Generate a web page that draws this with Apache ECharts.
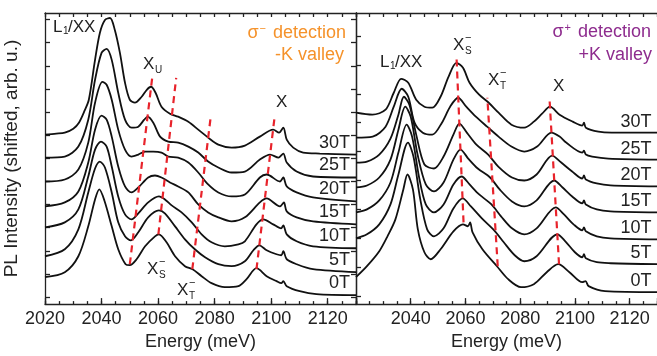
<!DOCTYPE html>
<html><head><meta charset="utf-8">
<script src="https://cdn.jsdelivr.net/npm/echarts@6/dist/echarts.min.js"></script>
<style>html,body{margin:0;padding:0;background:#fff}#c{width:657px;height:356px}</style>
</head><body><div id="c"></div><script>
// ---------- DATA (energy in meV, intensity shifted, arb. u.) ----------
const fields = ['0T','5T','10T','15T','20T','25T','30T'];
const xTickLabelsLeft = [2020,2040,2060,2080,2100,2120];
const xTickLabelsRight = [2040,2060,2080,2100,2120];
const yTicksLeft = [7,30.2,53.4,76.6,99.8,123,146.2,169.4,192.6,215.8,239,262.2,285.4];
const yTicksRight = [8,37,66,95,124,153,182,211,240,269];

// sigma- detection (-K valley)
const left_0T = [[2020,27],[2027,32],[2031.8,48],[2035.3,78],[2037.7,105],[2039.2,115],[2041,104],[2043.6,78],[2045.9,55],[2048.5,40],[2050,39],[2052.4,45],[2055.4,58],[2058.9,68],[2060.3,70],[2063,62],[2066,48],[2069.5,38],[2072.2,35],[2075.4,28],[2078.9,21],[2083.6,17],[2088.4,18],[2091.3,25],[2094.8,36],[2098.4,28],[2101.9,23],[2103.6,21],[2104.3,23],[2105.5,18],[2110.1,13],[2116,10],[2130,9]];
const left_5T = [[2020,48],[2027,55],[2031.8,75],[2035.3,112],[2037.7,136],[2039.4,143],[2041.2,137],[2043.6,112],[2045.9,82],[2048.3,68],[2050.4,64],[2053,72],[2056.5,87],[2060.3,94],[2062.4,91],[2066,78],[2069.5,65],[2073,55],[2076.6,47],[2081.3,40],[2086,38],[2090.7,43],[2093.7,54],[2095.8,59],[2098.4,54],[2101.9,50],[2103.6,49],[2104.3,53],[2105.5,45],[2109,40],[2114.8,35],[2130,32]];
const left_10T = [[2020,77],[2027,82],[2031.8,95],[2035.3,128],[2037.7,155],[2039.8,163],[2041.8,158],[2043.6,138],[2045.9,108],[2048.3,90],[2050.6,85],[2053,91],[2056.5,102],[2060.3,108],[2062.4,105],[2064.8,99],[2068.3,92],[2071.9,82],[2075.4,70],[2078.9,62],[2083.6,58],[2088.4,60],[2090.7,63],[2094.8,80],[2097.2,85],[2100.7,80],[2103.5,76],[2104.3,79],[2105.5,70],[2109,63],[2114.8,58],[2130,56]];
const left_15T = [[2020,98],[2027,102],[2031.8,113],[2035.3,142],[2037.7,175],[2040,189],[2041.8,185],[2043.6,168],[2045.9,138],[2048.3,118],[2050.6,112],[2053,117],[2056.5,127],[2058.9,129],[2061.2,127],[2064.2,122],[2067.1,118],[2070.7,112],[2074.2,100],[2077.7,92],[2081.3,87],[2086,83],[2090.7,87],[2096,102],[2098.4,106],[2103.1,98],[2104.5,102],[2105.5,93],[2109,87],[2114.8,83],[2130,80]];
const left_20T = [[2020,123],[2027,125],[2031.8,135],[2035.3,162],[2037.7,202],[2040.3,223],[2041.8,220],[2043.6,205],[2045.9,175],[2048.3,155],[2050.6,148],[2053,150],[2055.4,153],[2058.3,153],[2061.2,152],[2063.6,148],[2067.1,147],[2070.7,142],[2074.2,132],[2077.7,120],[2081.3,112],[2086,108],[2090.7,110],[2096,127],[2098.4,130],[2103.1,123],[2104.3,127],[2105.5,118],[2109,112],[2114.8,107],[2130,103]];
const left_25T = [[2020,147],[2027,148],[2031.8,158],[2035.3,185],[2037.7,225],[2040,252],[2041.8,256],[2043.6,245],[2045.9,212],[2048.3,185],[2050.6,177],[2053,178],[2055.1,185],[2056.3,188],[2058.3,182],[2060.7,168],[2063.6,163],[2067.1,162],[2070.7,158],[2074.2,152],[2077.7,143],[2081.3,137],[2086,132],[2090.7,133],[2096,145],[2099.6,150],[2102.6,147],[2104.3,151],[2105.5,142],[2109,133],[2114.8,128],[2130,127]];
const left_30T = [[2020,170],[2024,171],[2027,172],[2030,176],[2032,182],[2034,194],[2035.5,205],[2037.7,245],[2039.4,272],[2041.2,285],[2043,287],[2044.7,275],[2046.5,252],[2048.3,222],[2050,205],[2051.8,202],[2054.2,208],[2056,215],[2057.5,218],[2059.1,212],[2061.2,198],[2064.2,191],[2067.1,188],[2070.7,183],[2074.2,175],[2077.7,167],[2081.3,160],[2086,157],[2090.7,159],[2096,168],[2100.7,175],[2102.8,172],[2104.3,177],[2105.5,165],[2107.8,157],[2111.3,152],[2117.2,151],[2130,150]];

// sigma+ detection (+K valley)
const right_0T = [[2020,27],[2024,38],[2028.5,53],[2031.5,68],[2034.4,85],[2037.3,115],[2038.8,130],[2040.8,115],[2042.6,75],[2045,52],[2047.3,45],[2050.9,55],[2055.6,73],[2059.1,80],[2060.9,78],[2061.7,82],[2062.6,72],[2066.2,55],[2071.5,38],[2075.6,25],[2080.3,17],[2085,20],[2089.7,32],[2093.9,40],[2098,32],[2102.7,22],[2103.9,23],[2105,18],[2111,13],[2130,12]];
const right_5T = [[2020,66],[2024,70],[2028.5,80],[2032.6,100],[2035.5,130],[2039,162],[2041,148],[2043.5,105],[2046,75],[2048.5,68],[2052,76],[2055.6,96],[2059,106],[2062,98],[2066,86],[2070.5,74],[2074,62],[2078,49],[2081.5,43],[2086,48],[2093.6,70],[2096.5,63],[2100,52],[2102.7,47],[2103.3,50],[2104,46],[2108,42],[2113,41],[2130,40]];
const right_10T = [[2020,92],[2024,95],[2028.5,104],[2032.6,122],[2035.5,152],[2038.5,180],[2040.5,168],[2043,128],[2045.5,100],[2048.5,92],[2052,100],[2055.6,120],[2058.6,128],[2061.5,120],[2065,110],[2069.5,100],[2073,88],[2077,76],[2081.5,70],[2086,76],[2093,97],[2096,90],[2099.5,80],[2102.7,74],[2103.3,77],[2104,73],[2108,68],[2113,66],[2130,65]];
const right_15T = [[2020,117],[2024,119],[2028.5,127],[2032.6,145],[2035.5,175],[2038,198],[2040,188],[2042.5,150],[2045.5,120],[2048.5,113],[2052,122],[2055.6,145],[2058.2,155],[2061,146],[2064.5,136],[2069,127],[2072.5,115],[2077,103],[2081.5,98],[2086,104],[2092.4,124],[2095.5,117],[2099,108],[2102.7,101],[2103.3,104],[2104,100],[2108,95],[2113,93],[2130,92]];
const right_20T = [[2020,142],[2024,143],[2028.5,150],[2032.6,166],[2035.5,190],[2037.5,208],[2039.5,200],[2042,170],[2045,140],[2048.5,136],[2052,148],[2055.6,170],[2057.8,181],[2060.5,172],[2064,160],[2068.3,150],[2072,138],[2077,127],[2081.5,124],[2086,130],[2091.7,149],[2095,142],[2099,133],[2102.7,126],[2103.3,129],[2104,125],[2108,121],[2113,119],[2130,118]];
const right_25T = [[2020,167],[2026.1,168],[2030.8,178],[2033.8,198],[2036.7,216],[2039.1,208],[2041.4,182],[2044.4,172],[2047.9,170],[2051.4,182],[2054.4,198],[2057.3,207],[2060.3,198],[2063.8,188],[2067.9,178],[2072.1,168],[2076.8,158],[2081.5,153],[2086.2,158],[2091.4,172],[2094.4,168],[2096.8,162],[2102.7,152],[2103.3,154],[2104,150],[2106.3,148],[2112.2,146],[2130,145]];
const right_30T = [[2020,192],[2026,190],[2030.8,195],[2033.8,212],[2036.5,226],[2039.1,222],[2042,205],[2045,198],[2047.9,197],[2050.9,208],[2053.8,228],[2056.7,242],[2059.1,237],[2061.5,222],[2065,210],[2068.5,202],[2072.1,192],[2076.8,180],[2081.5,177],[2085,183],[2088,191],[2090.9,198],[2094.4,190],[2099.2,183],[2102.7,179],[2103.3,182],[2104,177],[2108.6,173],[2113.4,172],[2130,172]];

// red dashed guide lines [start, end]
const leftGuideXs = [[2050,40],[2058,229]];
const leftGuideMid = [[2060.1,70],[2066.4,227]];
const leftGuideXt = [[2072.1,35],[2078.7,190]];
const leftGuideX = [[2094.8,35],[2101.3,190]];
const rightGuideXs = [[2059.3,82],[2056.7,250]];
const rightGuideXt = [[2071.8,38],[2068,207]];
const rightGuideX = [[2094.2,40],[2090.7,207]];

// ---------- CHART ----------
const leftCurves = [left_0T,left_5T,left_10T,left_15T,left_20T,left_25T,left_30T];
const rightCurves = [right_0T,right_5T,right_10T,right_15T,right_20T,right_25T,right_30T];
const FONT = '"Liberation Sans", Arial, Helvetica, sans-serif';
const AX = {color:'#222', width:1.3};
const chart = echarts.init(document.getElementById('c'), null, {renderer:'canvas'});

function xAxes(grid, labels, withName){
  return [
    {gridIndex:grid, type:'value', position:'bottom', min:2020, max:2130, interval:5,
     axisLine:{lineStyle:AX}, axisTick:{inside:true, length:3, lineStyle:AX},
     axisLabel:{customValues:labels, formatter:(v)=>String(v), fontSize:18, color:'#222', fontFamily:FONT, margin:6},
     splitLine:{show:false},
     name: withName ? 'Energy (meV)' : '', nameLocation:'middle', nameGap:27,
     nameTextStyle:{fontSize:18, color:'#222', fontFamily:FONT}},
    {gridIndex:grid, type:'value', position:'bottom', min:2020, max:2130, interval:20,
     axisLine:{show:false}, axisTick:{inside:true, length:6, lineStyle:AX},
     axisLabel:{show:false}, splitLine:{show:false}},
    {gridIndex:grid, type:'value', position:'top', min:2020, max:2130, interval:5,
     axisLine:{lineStyle:AX}, axisTick:{inside:true, length:4, lineStyle:AX},
     axisLabel:{show:false}, splitLine:{show:false}}
  ];
}
const xAxis = xAxes(0, xTickLabelsLeft, true).concat(xAxes(1, xTickLabelsRight, true));
const yAxis = [
  {gridIndex:0, type:'value', position:'left', min:0, max:292,
   axisLine:{show:true, lineStyle:AX}, axisTick:{show:true, inside:true, length:5, customValues:yTicksLeft, lineStyle:AX},
   axisLabel:{show:false}, splitLine:{show:false},
   name:'PL Intensity (shifted, arb. u.)', nameLocation:'middle', nameGap:24,
   nameTextStyle:{fontSize:19, color:'#222', fontFamily:FONT}},
  {gridIndex:0, type:'value', position:'right', min:0, max:292,
   axisLine:{show:true, lineStyle:AX}, axisTick:{show:true, inside:true, length:5, customValues:yTicksLeft, lineStyle:AX},
   axisLabel:{show:false}, splitLine:{show:false}},
  {gridIndex:1, type:'value', position:'left', min:0, max:292,
   axisLine:{show:true, lineStyle:AX}, axisTick:{show:true, inside:true, length:5, customValues:yTicksRight, lineStyle:AX},
   axisLabel:{show:false}, splitLine:{show:false}}
];
const series = [];
leftCurves.forEach((d,i)=>series.push({type:'line', name:'-K '+fields[i], xAxisIndex:0, yAxisIndex:0, data:d,
  symbol:'none', smooth:0.3, lineStyle:{color:'#111', width:1.8}, z:3}));
rightCurves.forEach((d,i)=>series.push({type:'line', name:'+K '+fields[i], xAxisIndex:3, yAxisIndex:2, data:d,
  symbol:'none', smooth:0.3, lineStyle:{color:'#111', width:1.8}, z:3}));
const RED = {color:'#e8232b', width:2.2, type:[7,5]};
[[leftGuideXs,0,0],[leftGuideMid,0,0],[leftGuideXt,0,0],[leftGuideX,0,0],[rightGuideXs,3,2],[rightGuideXt,3,2],[rightGuideX,3,2]]
 .forEach(([d,xi,yi])=>series.push({type:'line', xAxisIndex:xi, yAxisIndex:yi, data:d, symbol:'none', lineStyle:RED, z:4}));

chart.setOption({
  animation:false,
  backgroundColor:'#fff',
  grid:[{left:45, top:13, width:311, height:292}, {left:356, top:13, width:311, height:292}],
  xAxis, yAxis, series
});

// ---------- TEXT ANNOTATIONS ----------
function T(x,y,text,size,color,align){
  return {type:'text', x, y, z:10, style:{text, fontSize:size, fontFamily:FONT, fill:color||'#222', align:align||'left', verticalAlign:'middle'}};
}
function Xsubsup(x,y,sub,sup){
  const g=[T(x,y,'X',17)];
  g.push(T(x+12,y+6,sub,10));
  if(sup) g.push(T(x+12,y-7,sup,11));
  return g;
}
const ORANGE='#f5922a', PURPLE='#8e2c8e';
let gr = [];
// left panel
gr.push(T(53,27,'L',17)); gr.push(T(63,31,'1',10)); gr.push(T(68,27,'/XX',17));
gr = gr.concat(Xsubsup(143,64,'U'));
gr.push(T(276,102,'X',17));
gr = gr.concat(Xsubsup(147,269,'S','−'));
gr = gr.concat(Xsubsup(177,290,'T','−'));
gr.push({type:'text', x:346, y:33, z:10, style:{text:'{m|σ}{p|−}{m| detection}', align:'right', verticalAlign:'middle',
  rich:{m:{fontSize:18, fontFamily:FONT, fill:ORANGE, lineHeight:20}, p:{fontSize:11, fontFamily:FONT, fill:ORANGE, verticalAlign:'top', lineHeight:10, padding:[0,2,0,1]}}}});
gr.push(T(344,55,'-K valley',18,ORANGE,'right'));
// right panel
gr.push(T(380,62,'L',17)); gr.push(T(390,66,'1',10)); gr.push(T(395,62,'/XX',17));
gr = gr.concat(Xsubsup(453,45,'S','−'));
gr = gr.concat(Xsubsup(488,80,'T','−'));
gr.push(T(553,86,'X',17));
gr.push({type:'text', x:651, y:32, z:10, style:{text:'{m|σ}{p|+}{m| detection}', align:'right', verticalAlign:'middle',
  rich:{m:{fontSize:18, fontFamily:FONT, fill:PURPLE, lineHeight:20}, p:{fontSize:11, fontFamily:FONT, fill:PURPLE, verticalAlign:'top', lineHeight:10, padding:[0,2,0,1]}}}});
gr.push(T(652,55,'+K valley',18,PURPLE,'right'));
// field labels anchored to each curve's tail
leftCurves.forEach((d,i)=>{
  const last=d[d.length-1];
  const p=chart.convertToPixel({xAxisIndex:0, yAxisIndex:0}, last);
  gr.push(T(p[0]-6, p[1]-12, fields[i], 18, '#222', 'right'));
});
rightCurves.forEach((d,i)=>{
  const p=chart.convertToPixel({xAxisIndex:3, yAxisIndex:2}, [2128,d[d.length-1][1]]);
  gr.push(T(p[0], p[1]-11, fields[i], 18, '#222', 'right'));
});
chart.setOption({graphic:gr});
</script></body></html>
